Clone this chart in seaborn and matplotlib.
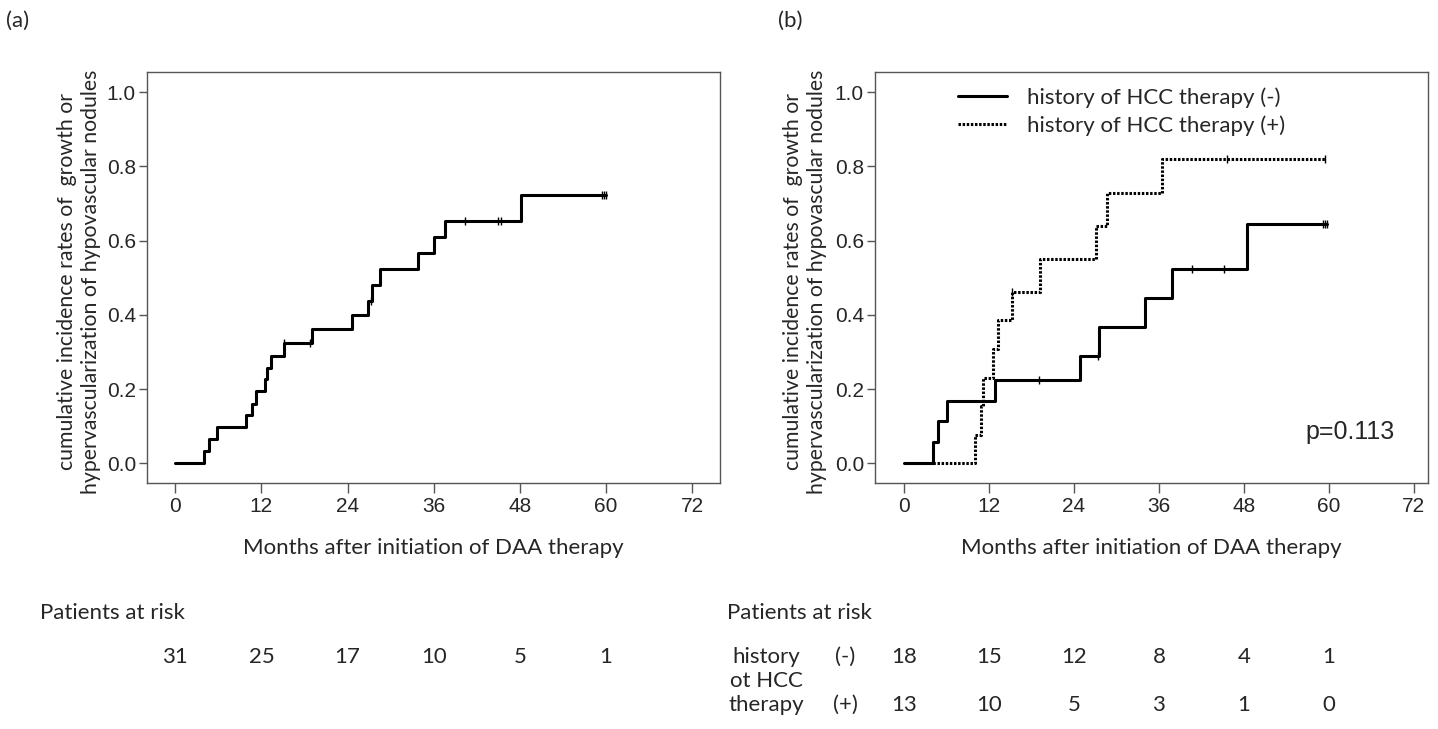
import numpy as np
import pandas as pd
import matplotlib
matplotlib.use('Agg')
import matplotlib.pyplot as plt
import matplotlib.transforms as mtransforms
from matplotlib.ticker import FormatStrFormatter
from matplotlib.lines import Line2D
import seaborn as sns

# ---------------------------------------------------------------
# Data (months, cumulative incidence)
# ---------------------------------------------------------------

# (a) all patients
all_time = [0, 4.0, 4.7, 5.8, 9.9, 10.7, 11.3, 12.5, 12.8, 13.3, 15.1, 19.0,
            24.6, 26.8, 27.4, 28.5, 33.8, 36.0, 37.6, 48.2, 60.0]
all_cum = [0, 0.032, 0.065, 0.097, 0.129, 0.161, 0.194, 0.226, 0.258, 0.290,
           0.323, 0.362, 0.399, 0.437, 0.480, 0.524, 0.566, 0.609, 0.653,
           0.723, 0.723]
all_cens = [15.2, 18.8, 27.3, 40.3, 45.0, 45.4, 59.4, 59.7, 60.0]

# (b) history of HCC therapy (-)
neg_time = [0, 4.1, 4.8, 6.0, 12.9, 24.8, 27.5, 34.0, 37.9, 48.5, 59.8]
neg_cum = [0, 0.057, 0.114, 0.169, 0.224, 0.288, 0.366, 0.444, 0.523,
           0.644, 0.644]
neg_cens = [19.0, 27.4, 40.6, 45.2, 59.2, 59.5, 59.8]

# (b) history of HCC therapy (+)
pos_time = [0, 10.0, 10.9, 11.2, 12.6, 13.3, 15.2, 19.2, 27.1, 28.7, 36.4, 59.4]
pos_cum = [0, 0.077, 0.154, 0.231, 0.308, 0.385, 0.462, 0.551, 0.640,
           0.728, 0.819, 0.819]
pos_cens = [15.3, 45.6, 59.4]

risk_months = [0, 12, 24, 36, 48, 60]
risk_all = [31, 25, 17, 10, 5, 1]
risk_neg = [18, 15, 12, 8, 4, 1]
risk_pos = [13, 10, 5, 3, 1, 0]

x_ticks = [0, 12, 24, 36, 48, 60, 72]
y_ticks = [0.0, 0.2, 0.4, 0.6, 0.8, 1.0]

label_neg = 'history of HCC therapy (-)'
label_pos = 'history of HCC therapy (+)'
y_label = 'cumulative incidence rates of  growth or\nhypervascularization of hypovascular nodules'
x_label = 'Months after initiation of DAA therapy'

# ---------------------------------------------------------------
# Style
# ---------------------------------------------------------------
sns.set_style('ticks')
plt.rcParams['font.family'] = ['Lato', 'DejaVu Sans']
TICK_FONT = 'Liberation Sans'
SPINE = '#555555'
DOTTED = (0, (0.8, 0.55))
W, H = 1438, 729


def fx(px):
    return px / W


def fy(py):
    return 1 - py / H


def step_value(times, cum, t):
    idx = np.searchsorted(times, t, side='right') - 1
    return np.asarray(cum)[idx]


def km_curve(ax, times, cum, cens, ls):
    df = pd.DataFrame({'month': times, 'cum': cum})
    sns.lineplot(data=df, x='month', y='cum', drawstyle='steps-post',
                 estimator=None, color='black', lw=2.2, linestyle=ls, ax=ax)
    cdf = pd.DataFrame({'month': cens, 'cum': step_value(times, cum, cens)})
    sns.scatterplot(data=cdf, x='month', y='cum', marker='|', s=40,
                    color='black', linewidth=1.0, ax=ax, zorder=3)


def style_axes(ax, xlim, ylab_x):
    ax.set_xlim(*xlim)
    ax.set_ylim(-0.053, 1.054)
    ax.set_xticks(x_ticks)
    ax.set_yticks(y_ticks)
    ax.yaxis.set_major_formatter(FormatStrFormatter('%.1f'))
    ax.tick_params(direction='out', length=7, width=1, color=SPINE,
                   labelsize=15, pad=3, labelfontfamily=TICK_FONT)
    ax.tick_params(axis='y', length=6, pad=2)
    for s in ax.spines.values():
        s.set_color(SPINE)
        s.set_linewidth(1.0)
    ax.set_xlabel(x_label, fontsize=16)
    ax.xaxis.set_label_coords(0.5, -0.158)
    ax.xaxis.label.set_va('center')
    ax.set_ylabel(y_label, fontsize=15.3, linespacing=1.25)
    ax.yaxis.set_label_coords(ylab_x, 0.49)
    ax.yaxis.label.set_va('center')


fig = plt.figure(figsize=(W / 100, H / 100), dpi=100)
ax_a = fig.add_axes([fx(147), fy(483), fx(720 - 147), (483 - 72) / H])
ax_b = fig.add_axes([fx(875), fy(483), fx(1428 - 875), (483 - 72) / H])

# (a)
km_curve(ax_a, all_time, all_cum, all_cens, '-')
style_axes(ax_a, (-3.94, 75.9), -0.119)

# (b)
km_curve(ax_b, neg_time, neg_cum, neg_cens, '-')
km_curve(ax_b, pos_time, pos_cum, pos_cens, DOTTED)
style_axes(ax_b, (-4.1, 74.0), -0.1257)

handles = [Line2D([], [], color='black', lw=2.2, ls='-'),
           Line2D([], [], color='black', lw=2.2, ls=DOTTED)]
ax_b.legend(handles, [label_neg, label_pos], loc='upper left',
            bbox_to_anchor=(0.150, 0.963), frameon=False, fontsize=16,
            handlelength=2.2, handletextpad=0.9, borderpad=0,
            borderaxespad=0, labelspacing=0.35)

ax_b.text(fx(1305), fy(432), 'p=0.113', transform=fig.transFigure,
          fontsize=18, family=TICK_FONT, ha='left', va='center')

# panel tags
fig.text(fx(6), fy(21), '(a)', fontsize=16, ha='left', va='center')
fig.text(fx(778), fy(21), '(b)', fontsize=16, ha='left', va='center')

# patients at risk tables
fig.text(fx(40), fy(613), 'Patients at risk', fontsize=16, ha='left', va='center')
fig.text(fx(727), fy(613), 'Patients at risk', fontsize=16, ha='left', va='center')

tr_a = mtransforms.blended_transform_factory(ax_a.transData, fig.transFigure)
tr_b = mtransforms.blended_transform_factory(ax_b.transData, fig.transFigure)
for m, n in zip(risk_months, risk_all):
    fig.text(m, fy(657), str(n), transform=tr_a, fontsize=16, ha='center', va='center')
for m, n in zip(risk_months, risk_neg):
    fig.text(m, fy(657), str(n), transform=tr_b, fontsize=16, ha='center', va='center')
for m, n in zip(risk_months, risk_pos):
    fig.text(m, fy(705), str(n), transform=tr_b, fontsize=16, ha='center', va='center')

for txt, py in zip(['history', 'ot HCC', 'therapy'], [657, 681, 705]):
    fig.text(fx(766), fy(py), txt, fontsize=16, ha='center', va='center')
fig.text(fx(845), fy(657), '(-)', fontsize=16, ha='center', va='center')
fig.text(fx(845), fy(705), '(+)', fontsize=16, ha='center', va='center')

fig.savefig('out.png', dpi=100)
plt.close(fig)
